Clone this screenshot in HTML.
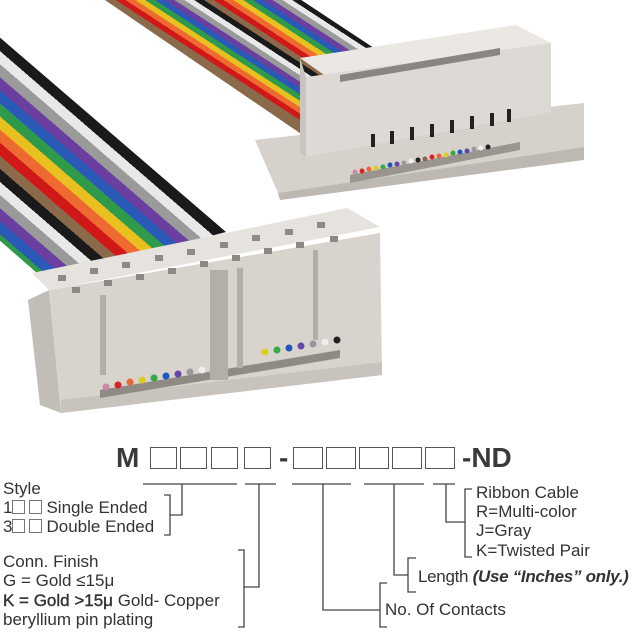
<!DOCTYPE html>
<html><head><meta charset="utf-8"><style>
body{margin:0;background:#fff;}
#c{position:relative;width:640px;height:640px;overflow:hidden;background:#fff;font-family:"Liberation Sans",Arial,sans-serif;color:#333;}
.t{position:absolute;font-size:17px;line-height:19px;white-space:nowrap;}
.b{position:absolute;top:447px;width:27px;height:22px;border:1.3px solid #555;box-sizing:border-box;}
.s{display:inline-block;width:13px;height:14px;border:1px solid #777;box-sizing:border-box;margin-right:4px;vertical-align:-1px;}
.ti{position:absolute;top:443px;font-size:28px;font-weight:bold;line-height:30px;color:#3a3a3a;}
</style></head><body><div id="c">
<svg width="640" height="640" style="position:absolute;left:0;top:0">
<defs>
<linearGradient id="g1" gradientUnits="userSpaceOnUse" x1="0" y1="38" x2="-129.5" y2="187.7">
<stop offset="0" stop-color="#1a1a1a"/><stop offset=".05" stop-color="#1a1a1a"/>
<stop offset=".05" stop-color="#e8e8e8"/><stop offset=".1" stop-color="#e8e8e8"/>
<stop offset=".1" stop-color="#9a9a9a"/><stop offset=".15" stop-color="#9a9a9a"/>
<stop offset=".15" stop-color="#6a3fa0"/><stop offset=".2" stop-color="#6a3fa0"/>
<stop offset=".2" stop-color="#2a5ab8"/><stop offset=".25" stop-color="#2a5ab8"/>
<stop offset=".25" stop-color="#2f9a4a"/><stop offset=".3" stop-color="#2f9a4a"/>
<stop offset=".3" stop-color="#e8c020"/><stop offset=".35" stop-color="#e8c020"/>
<stop offset=".35" stop-color="#ee6a30"/><stop offset=".4" stop-color="#ee6a30"/>
<stop offset=".4" stop-color="#d01818"/><stop offset=".45" stop-color="#d01818"/>
<stop offset=".45" stop-color="#8a6a4a"/><stop offset=".5" stop-color="#8a6a4a"/>
<stop offset=".5" stop-color="#1a1a1a"/><stop offset=".55" stop-color="#1a1a1a"/>
<stop offset=".55" stop-color="#e8e8e8"/><stop offset=".6" stop-color="#e8e8e8"/>
<stop offset=".6" stop-color="#9a9a9a"/><stop offset=".65" stop-color="#9a9a9a"/>
<stop offset=".65" stop-color="#6a3fa0"/><stop offset=".7" stop-color="#6a3fa0"/>
<stop offset=".7" stop-color="#2a5ab8"/><stop offset=".75" stop-color="#2a5ab8"/>
<stop offset=".75" stop-color="#2f9a4a"/><stop offset=".8" stop-color="#2f9a4a"/>
<stop offset=".8" stop-color="#e8c020"/><stop offset=".85" stop-color="#e8c020"/>
<stop offset=".85" stop-color="#ee6a30"/><stop offset=".9" stop-color="#ee6a30"/>
<stop offset=".9" stop-color="#d01818"/><stop offset=".95" stop-color="#d01818"/>
<stop offset=".95" stop-color="#8a6a4a"/><stop offset="1" stop-color="#8a6a4a"/>
</linearGradient>
<linearGradient id="g2" href="#g1" x1="302" y1="0" x2="243.6" y2="89.7"/>
</defs>
<polygon points="277,-16 380,52 310,140 80,-17" fill="url(#g2)"/>
<polygon points="-60,-14 226,232 45,280 -182,82" fill="url(#g1)"/>
<polygon points="255,140 584,103 584,147 278,193" fill="#d6d1cb"/>
<polygon points="278,193 584,147 584,160 280,200" fill="#bdb8b2"/>
<polygon points="300,58 516,25 551,43 327,77" fill="#ebe8e4"/>
<polygon points="306,77 551,43 551,112 306,157" fill="#ddd9d4"/>
<polygon points="300,58 306,77 306,157 300,153" fill="#c9c4be"/>
<polygon points="340,75 500,48 500,55 340,82" fill="#8a8580"/>
<polygon points="350,175 520,142 520,150 350,183" fill="#9a958f"/>
<g fill="#222">
<rect x="371" y="134" width="4" height="13"/><rect x="390" y="131" width="4" height="13"/><rect x="410" y="127" width="4" height="13"/><rect x="430" y="124" width="4" height="13"/><rect x="450" y="120" width="4" height="13"/><rect x="470" y="116" width="4" height="13"/><rect x="490" y="113" width="4" height="13"/><rect x="507" y="109" width="4" height="13"/>
</g>
<g>
<circle cx="355" cy="172" r="2.5" fill="#c8a"/><circle cx="362" cy="171" r="2.5" fill="#d22"/><circle cx="369" cy="169" r="2.5" fill="#e63"/><circle cx="376" cy="168" r="2.5" fill="#dc2"/><circle cx="383" cy="167" r="2.5" fill="#3a4"/><circle cx="390" cy="165" r="2.5" fill="#25b"/><circle cx="397" cy="164" r="2.5" fill="#64a"/><circle cx="404" cy="163" r="2.5" fill="#999"/><circle cx="411" cy="161" r="2.5" fill="#eee"/><circle cx="418" cy="160" r="2.5" fill="#222"/><circle cx="425" cy="159" r="2.5" fill="#865"/><circle cx="432" cy="157" r="2.5" fill="#d22"/><circle cx="439" cy="156" r="2.5" fill="#e63"/><circle cx="446" cy="155" r="2.5" fill="#dc2"/><circle cx="453" cy="153" r="2.5" fill="#3a4"/><circle cx="460" cy="152" r="2.5" fill="#25b"/><circle cx="467" cy="151" r="2.5" fill="#64a"/><circle cx="474" cy="149" r="2.5" fill="#999"/><circle cx="481" cy="148" r="2.5" fill="#eee"/><circle cx="488" cy="147" r="2.5" fill="#222"/>
</g>
<polygon points="32,273 347,208 380,227 49,290" fill="#e6e2dd"/>
<polygon points="28,300 49,290 61,413 40,405" fill="#c2bdb7"/>
<polygon points="49,290 380,233 382,375 61,413" fill="#d8d3cd"/>
<polygon points="61,400 382,362 382,375 61,413" fill="#c8c3bd"/>
<polygon points="100,390 340,350 340,358 100,398" fill="#8f8a84"/>
<g fill="#b3aea8">
<rect x="100" y="295" width="6" height="80"/><rect x="210" y="270" width="18" height="110"/><rect x="237" y="268" width="6" height="100"/><rect x="313" y="250" width="5" height="90"/>
</g>
<g fill="#8e8984">
<rect x="58" y="275" width="8" height="6"/><rect x="90" y="268" width="8" height="6"/><rect x="122" y="262" width="8" height="6"/><rect x="155" y="255" width="8" height="6"/><rect x="187" y="249" width="8" height="6"/><rect x="220" y="242" width="8" height="6"/><rect x="252" y="235" width="8" height="6"/><rect x="285" y="229" width="8" height="6"/><rect x="317" y="222" width="8" height="6"/>
<rect x="72" y="287" width="8" height="6"/><rect x="104" y="280" width="8" height="6"/><rect x="136" y="274" width="8" height="6"/><rect x="168" y="268" width="8" height="6"/><rect x="200" y="261" width="8" height="6"/><rect x="232" y="255" width="8" height="6"/><rect x="264" y="248" width="8" height="6"/><rect x="296" y="242" width="8" height="6"/><rect x="330" y="236" width="8" height="6"/>
</g>
<g>
<circle cx="106" cy="387" r="3.5" fill="#c8a"/><circle cx="118" cy="385" r="3.5" fill="#d22"/><circle cx="130" cy="382" r="3.5" fill="#e63"/><circle cx="142" cy="380" r="3.5" fill="#dc2"/><circle cx="154" cy="378" r="3.5" fill="#3a4"/><circle cx="166" cy="376" r="3.5" fill="#25b"/><circle cx="178" cy="374" r="3.5" fill="#64a"/><circle cx="190" cy="372" r="3.5" fill="#999"/><circle cx="202" cy="370" r="3.5" fill="#eee"/>
<circle cx="265" cy="352" r="3.5" fill="#dc2"/><circle cx="277" cy="350" r="3.5" fill="#3a4"/><circle cx="289" cy="348" r="3.5" fill="#25b"/><circle cx="301" cy="346" r="3.5" fill="#64a"/><circle cx="313" cy="344" r="3.5" fill="#999"/><circle cx="325" cy="342" r="3.5" fill="#eee"/><circle cx="337" cy="340" r="3.5" fill="#222"/>
</g>
<g stroke="#444" stroke-width="1.3" fill="none">
<line x1="143" y1="484" x2="237" y2="484"/><line x1="245" y1="484" x2="276" y2="484"/><line x1="292" y1="484" x2="351" y2="484"/><line x1="364" y1="484" x2="424" y2="484"/><line x1="433" y1="484" x2="455" y2="484"/>
<polyline points="182,484 182,515 170,515"/><polyline points="164,495 170,495 170,535 164,535"/>
<polyline points="259,484 259,587 244,587"/><polyline points="238,550 244,550 244,627 238,627"/>
<polyline points="323,484 323,610 380,610"/><polyline points="387,583 380,583 380,627 387,627"/>
<polyline points="394,484 394,575 408,575"/><polyline points="416,558 408,558 408,592 416,592"/>
<polyline points="446,484 446,522 465,522"/><polyline points="472,489 465,489 465,557 472,557"/>
</g>
</svg>
<div class="ti" style="left:116px">M</div>
<div class="b" style="left:150px"></div><div class="b" style="left:180px"></div><div class="b" style="left:211px"></div><div class="b" style="left:244px"></div>
<div class="ti" style="left:279px">-</div>
<div class="b" style="left:293px;width:30px"></div><div class="b" style="left:326px;width:30px"></div><div class="b" style="left:359px;width:30px"></div><div class="b" style="left:392px;width:30px"></div><div class="b" style="left:425px;width:30px"></div>
<div class="ti" style="left:462px">-ND</div>
<div class="t" style="left:3px;top:479px">Style</div>
<div class="t" style="left:3px;top:498px">1<span class="s"></span><span class="s"></span>Single Ended</div>
<div class="t" style="left:3px;top:517px">3<span class="s"></span><span class="s"></span>Double Ended</div>
<div class="t" style="left:3px;top:552px">Conn. Finish</div>
<div class="t" style="left:3px;top:571px">G = Gold ≤15μ</div>
<div class="t" style="left:3px;top:591px"><span style="-webkit-text-stroke:0.4px #333">K = Gold &gt;15μ</span> Gold- Copper</div>
<div class="t" style="left:3px;top:610px">beryllium pin plating</div>
<div class="t" style="left:476px;top:483px">Ribbon Cable</div>
<div class="t" style="left:476px;top:502px">R=Multi-color</div>
<div class="t" style="left:476px;top:521px">J=Gray</div>
<div class="t" style="left:476px;top:541px">K=Twisted Pair</div>
<div class="t" style="left:418px;top:567px;letter-spacing:-0.3px">Length <b><i>(Use “Inches” only.)</i></b></div>
<div class="t" style="left:385px;top:600px">No. Of Contacts</div>
</div></body></html>
